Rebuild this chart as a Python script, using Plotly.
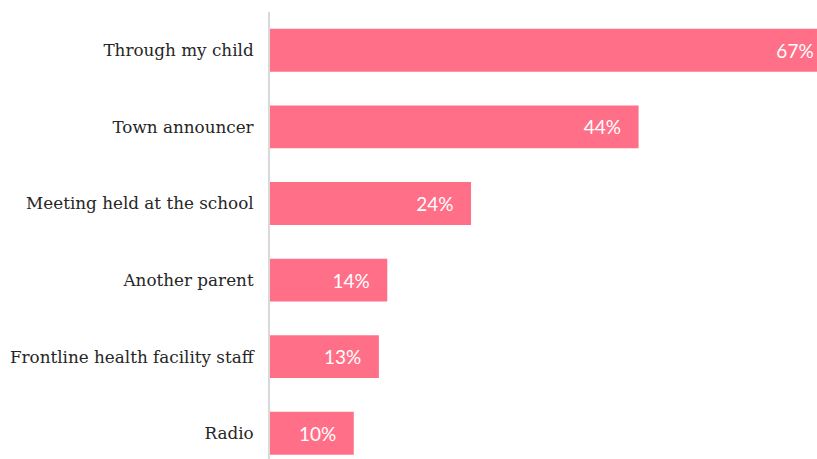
import plotly.graph_objects as go

categories = ["Through my child", "Town announcer", "Meeting held at the school",
              "Another parent", "Frontline health facility staff", "Radio"]
values = [67, 44, 24, 14, 13, 10]

NBSP = "\u00a0"
labels = [f"{v}%" + NBSP * 3 for v in values]

fig = go.Figure(go.Bar(
    x=values, y=categories, orientation="h",
    marker=dict(color="#FF7088", line=dict(width=0)),
    text=labels, textposition="inside", insidetextanchor="end",
    textfont=dict(family="Lato", size=19, color="white"),
    textangle=0, cliponaxis=True, hoverinfo="skip",
))

fig.update_layout(
    width=817, height=459,
    margin=dict(l=270, r=0, t=12, b=0, autoexpand=False),
    plot_bgcolor="white", paper_bgcolor="white",
    bargap=0.44, showlegend=False,
    xaxis=dict(range=[0, 65.3], visible=False, fixedrange=True),
    yaxis=dict(range=[5.336, -0.5], showline=True, linecolor="#D9D9D9", linewidth=2,
               ticks="", showgrid=False, zeroline=False, ticklabelstandoff=11,
               tickfont=dict(family="DejaVu Serif", size=16.8, color="#262626")),
)

fig.write_html("out.html")
